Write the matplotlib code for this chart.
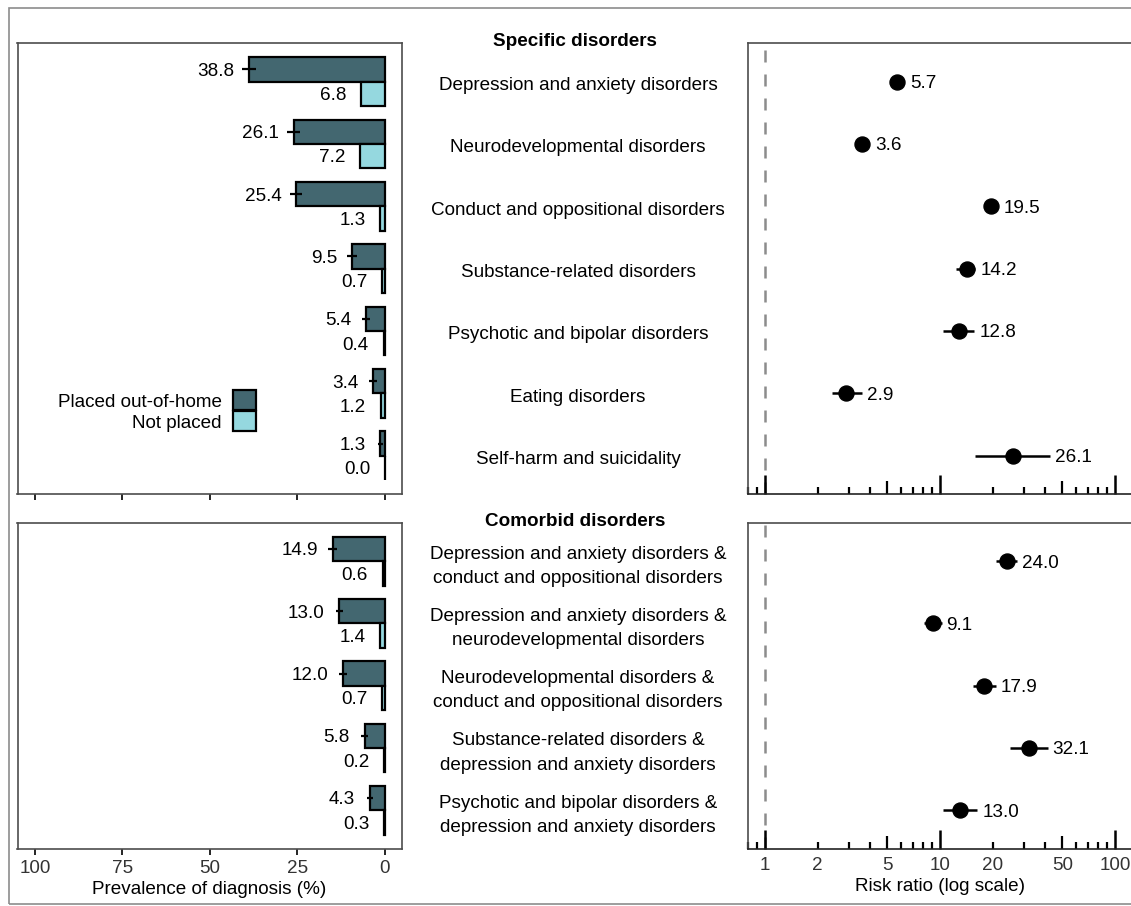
import numpy as np
import matplotlib
matplotlib.use("Agg")
import matplotlib.pyplot as plt
from matplotlib.patches import Patch, Rectangle
from matplotlib.transforms import blended_transform_factory

plt.rcParams['font.family'] = ['Liberation Sans', 'DejaVu Sans']
plt.rcParams['font.size'] = 13.6

# -----------------------------
# Data
# -----------------------------
spec_labels = [
    "Depression and anxiety disorders",
    "Neurodevelopmental disorders",
    "Conduct and oppositional disorders",
    "Substance-related disorders",
    "Psychotic and bipolar disorders",
    "Eating disorders",
    "Self-harm and suicidality",
]
spec_placed = [38.8, 26.1, 25.4, 9.5, 5.4, 3.4, 1.3]
spec_placed_err = [1.9, 1.8, 1.8, 1.4, 1.2, 1.2, 0.8]
spec_notplaced = [6.8, 7.2, 1.3, 0.7, 0.4, 1.2, 0.0]
spec_rr = [5.7, 3.6, 19.5, 14.2, 12.8, 2.9, 26.1]
spec_rr_lo = [5.4, 3.4, 18.6, 12.4, 10.4, 2.4, 15.8]
spec_rr_hi = [6.0, 3.8, 20.4, 15.9, 15.7, 3.6, 42.5]

com_labels = [
    "Depression and anxiety disorders &\nconduct and oppositional disorders",
    "Depression and anxiety disorders &\nneurodevelopmental disorders",
    "Neurodevelopmental disorders &\nconduct and oppositional disorders",
    "Substance-related disorders &\ndepression and anxiety disorders",
    "Psychotic and bipolar disorders &\ndepression and anxiety disorders",
]
com_placed = [14.9, 13.0, 12.0, 5.8, 4.3]
com_placed_err = [1.3, 1.0, 1.1, 1.1, 0.9]
com_notplaced = [0.6, 1.4, 0.7, 0.2, 0.3]
com_rr = [24.0, 9.1, 17.9, 32.1, 13.0]
com_rr_lo = [20.9, 8.1, 15.5, 25.1, 10.4]
com_rr_hi = [27.6, 10.2, 20.9, 41.2, 16.3]

prev_ticks = [100, 75, 50, 25, 0]
rr_major = [1, 10, 100]
rr_minor = [0.8, 0.9, 2, 3, 4, 5, 6, 7, 8, 9, 20, 30, 40, 50, 60, 70, 80, 90]
rr_minor_labels = ['2', '5', '20', '50']

dark = '#436770'
light = '#95d8df'
txt = 'black'
spine_c = '#4d4d4d'

W, H = 1131, 906
fig = plt.figure(figsize=(W / 100, H / 100), dpi=100)

# outer frame
fig.patches.append(Rectangle((9 / W, 2 / H), 1.2, 1 - 10 / H, transform=fig.transFigure,
                             fill=False, edgecolor='#8c8c8c', lw=1.2))

top_b, top_h = 1 - 494 / H, 450.7 / H
bot_b, bot_h = 1 - 848.5 / H, 325.5 / H
lx, lw_ = 17.5 / W, 384.2 / W
rx = 747.5 / W
rw = (765 + 175 * np.log10(160) - 747.5) / W

ax_tl = fig.add_axes([lx, top_b, lw_, top_h])
ax_bl = fig.add_axes([lx, bot_b, lw_, bot_h])
ax_tr = fig.add_axes([rx, top_b, rw, top_h])
ax_br = fig.add_axes([rx, bot_b, rw, bot_h])

bh = 0.39
pad = 0.614


def bars(ax, placed, err, notplaced, show_labels):
    n = len(placed)
    y = np.arange(n)
    ax.barh(y - bh / 2, placed, height=bh, color=dark, edgecolor='black', lw=1.6, zorder=2)
    ax.barh(y + bh / 2, notplaced, height=bh, color=light, edgecolor='black', lw=1.6, zorder=2)
    ax.errorbar(placed, y - bh / 2, xerr=err, fmt='none', ecolor='black',
                elinewidth=1.6, capsize=0, zorder=3)
    for i in range(n):
        ax.text(placed[i] + 4.2, y[i] - bh / 2 + 0.03, f"{placed[i]:.1f}", ha='right',
                va='center', color=txt)
        ax.text(notplaced[i] + 4.2, y[i] + bh / 2 + 0.03, f"{notplaced[i]:.1f}", ha='right',
                va='center', color=txt)
    ax.set_xlim(105, -4.8)
    ax.set_ylim(n - 1 + pad, -pad)
    ax.set_yticks([])
    ax.set_xticks(prev_ticks)
    ax.tick_params(axis='x', direction='out', length=4.5, width=1.2, color='black',
                   labelcolor='#333333', pad=3.5, labelbottom=show_labels)
    for s in ax.spines.values():
        s.set_color(spine_c)
        s.set_linewidth(1.2)


def forest(ax, rr, lo, hi, labels, show_labels):
    n = len(rr)
    y = np.arange(n)
    rr = np.array(rr)
    ax.set_xscale('log')
    ax.set_xlim(0.794, 160)
    ax.set_ylim(n - 1 + pad, -pad)
    ax.axvline(1, color='#8c8c8c', lw=1.8, linestyle=(0, (4.8, 4.8)), zorder=1)
    ax.errorbar(rr, y, xerr=[rr - np.array(lo), np.array(hi) - rr], fmt='o', color='black',
                ms=10.8, elinewidth=1.8, capsize=0, zorder=3)
    ax.set_yticks([])
    ax.set_xticks(rr_major, labels=[str(t) for t in rr_major] if show_labels else [])
    ax.set_xticks(rr_minor, minor=True,
                  labels=[(str(t) if str(t) in rr_minor_labels else '') for t in rr_minor]
                  if show_labels else [])
    ax.tick_params(axis='x', which='major', direction='in', length=13.7, width=1.8,
                   color='black', labelcolor='#333333', pad=6, labelbottom=show_labels)
    ax.tick_params(axis='x', which='minor', direction='in', length=5, width=1.6,
                   color='black', labelcolor='#333333', pad=6, labelbottom=show_labels)
    for t in ax.xaxis.get_minor_ticks():
        if t.get_loc() in (5, 50):
            t.tick1line.set_markersize(9.4)
    for s in ['left', 'top', 'bottom']:
        ax.spines[s].set_color(spine_c)
        ax.spines[s].set_linewidth(1.2)
    ax.spines['bottom'].set_color('#222222')
    ax.spines['right'].set_visible(False)

    # value labels just right of the interval
    fig.canvas.draw()
    for i in range(n):
        px_hi = ax.transData.transform((hi[i], y[i]))[0]
        px_pt = ax.transData.transform((rr[i], y[i]))[0] + 7.5
        px = max(px_hi, px_pt) + 5
        xd = ax.transData.inverted().transform((px, 0))[0]
        ax.text(xd, y[i] + 0.03, f"{rr[i]:.1f}", ha='left', va='center', color=txt)

    # disorder names in the middle column
    tr = blended_transform_factory(fig.transFigure, ax.transData)
    for i in range(n):
        ax.text(578 / W, y[i] + 0.06 + 0.02 * labels[i].count('\n'), labels[i], transform=tr,
                ha='center', va='center', color=txt, clip_on=False, linespacing=1.55)


bars(ax_tl, spec_placed, spec_placed_err, spec_notplaced, False)
bars(ax_bl, com_placed, com_placed_err, com_notplaced, True)
forest(ax_tr, spec_rr, spec_rr_lo, spec_rr_hi, spec_labels, False)
forest(ax_br, com_rr, com_rr_lo, com_rr_hi, com_labels, True)

ax_bl.set_xlabel("Prevalence of diagnosis (%)", color=txt, labelpad=3)
ax_br.set_xlabel("Risk ratio (log scale)", color=txt)
ax_br.xaxis.set_label_coords((940 - 747.5) / (rw * W), -0.09)

fig.text(575 / W, 1 - 41 / H, "Specific disorders", ha='center', va='center',
         fontweight='bold', color=txt)
fig.text(575 / W, 1 - 521 / H, "Comorbid disorders", ha='center', va='center',
         fontweight='bold', color=txt)

handles = [Patch(facecolor=dark, edgecolor='black', lw=1.6),
           Patch(facecolor=light, edgecolor='black', lw=1.6)]
ax_tl.legend(handles, ["Placed out-of-home", "Not placed"], markerfirst=False, frameon=False,
             loc='center right', bbox_to_anchor=(256 / W, 1 - 411 / H),
             bbox_transform=fig.transFigure, borderpad=0, borderaxespad=0,
             handlelength=1.21, handleheight=1.21, handletextpad=0.6, labelspacing=0.05,
             labelcolor=txt)

fig.savefig("out.png", dpi=100)
